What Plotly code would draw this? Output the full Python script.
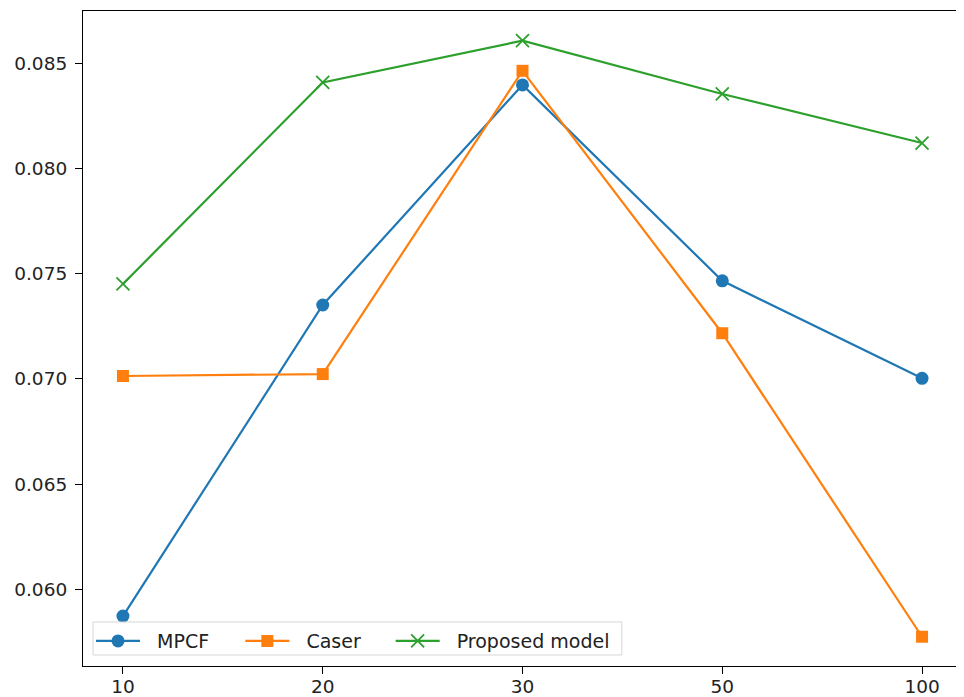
import plotly.graph_objects as go

categories = ["10", "20", "30", "50", "100"]
mpcf = [0.05874, 0.07351, 0.08396, 0.07466, 0.07003]
caser = [0.07014, 0.07023, 0.08463, 0.07217, 0.05776]
proposed = [0.07451, 0.08408, 0.08606, 0.08353, 0.08120]
series_names = ["MPCF", "Caser", "Proposed model"]
y_ticks = [0.060, 0.065, 0.070, 0.075, 0.080, 0.085]

x = list(range(len(categories)))
pad = "\u00a0\u00a0"  # small gap between legend symbol and label

fig = go.Figure()
fig.add_trace(go.Scatter(
    x=x, y=mpcf, name=pad + series_names[0], mode="lines+markers", legend="legend",
    line=dict(color="#1f77b4", width=2.2),
    marker=dict(symbol="circle", size=13, color="#1f77b4"),
))
fig.add_trace(go.Scatter(
    x=x, y=caser, name=pad + series_names[1], mode="lines+markers", legend="legend2",
    line=dict(color="#ff7f0e", width=2.2),
    marker=dict(symbol="square", size=12, color="#ff7f0e"),
))
fig.add_trace(go.Scatter(
    x=x, y=proposed, name=pad + series_names[2], mode="lines+markers", legend="legend3",
    line=dict(color="#2ca02c", width=2.2),
    marker=dict(symbol="x-thin", size=13, color="#2ca02c",
                line=dict(color="#2ca02c", width=1.8)),
))

def leg(xpos):
    return dict(
        orientation="h", x=xpos, y=0.038, xanchor="left", yanchor="middle",
        bgcolor="rgba(0,0,0,0)", borderwidth=0, itemwidth=44,
        font=dict(size=19, family="DejaVu Sans", color="#222"),
    )

# The page body has an 8px default margin, so the figure is sized to fit the window.
fig.update_layout(
    width=956, height=689,
    margin=dict(l=75, r=2, t=3, b=31, autoexpand=False),
    paper_bgcolor="white", plot_bgcolor="white",
    font=dict(family="DejaVu Sans", size=18.5, color="#222"),
    showlegend=True,
    legend=leg(0.0091),
    legend2=leg(0.179),
    legend3=leg(0.350),
    shapes=[dict(
        type="rect", xref="paper", yref="paper",
        x0=0.0114, x1=0.613, y0=0.0168, y1=0.0672,
        line=dict(color="#d6d6d6", width=1),
        fillcolor="rgba(255,255,255,0.85)", layer="above",
    )],
)
fig.update_xaxes(
    range=[-0.2, 4.2], automargin=False,
    tickmode="array", tickvals=x, ticktext=categories,
    showgrid=False, zeroline=False,
    showline=True, linecolor="black", linewidth=1.2, mirror=True,
    ticks="outside", ticklen=7, tickcolor="black",
    ticklabelstandoff=-3,
)
fig.update_yaxes(
    range=[0.05637, 0.08747], automargin=False,
    tickmode="array", tickvals=y_ticks,
    ticktext=[f"{v:.3f}" for v in y_ticks],
    showgrid=False, zeroline=False,
    showline=True, linecolor="black", linewidth=1.2, mirror=True,
    ticks="outside", ticklen=7, tickcolor="black",
    ticklabelstandoff=4,
)

fig.write_html("out.html")
